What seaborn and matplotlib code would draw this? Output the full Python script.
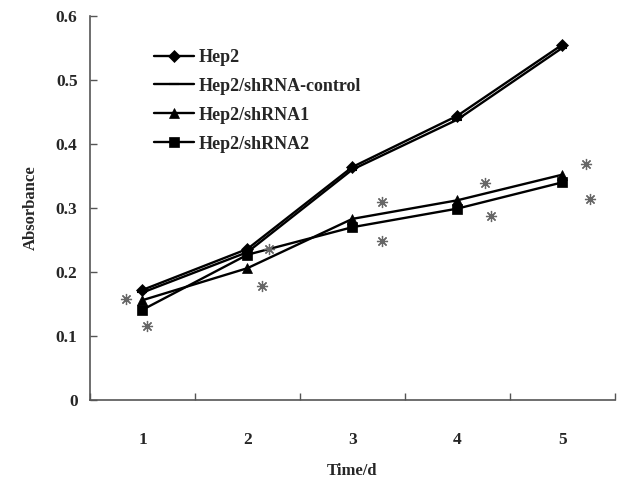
import numpy as np
import pandas as pd
import seaborn as sns
import matplotlib.pyplot as plt
from matplotlib.ticker import FixedLocator, FuncFormatter
from matplotlib.transforms import offset_copy

days = [1, 2, 3, 4, 5]
groups = ['Hep2', 'Hep2/shRNA-control', 'Hep2/shRNA1', 'Hep2/shRNA2']
hep2 = [0.172, 0.236, 0.364, 0.444, 0.555]
control = [0.168, 0.231, 0.360, 0.438, 0.550]
shrna1 = [0.156, 0.206, 0.283, 0.312, 0.352]
shrna2 = [0.141, 0.227, 0.270, 0.299, 0.340]

# asterisk offsets in pixels (dx, dy upward) next to shRNA1 / shRNA2 points
star_off1 = [(-16, 1), (15, -18), (30, 17), (28, 17), (24, 11)]
star_off2 = [(5, -16), (22, 6), (30, -14), (34, -7), (28, -17)]

df = pd.DataFrame({
    'Time/d': days * 4,
    'Absorbance': hep2 + control + shrna1 + shrna2,
    'group': np.repeat(groups, len(days)),
})

sns.set_theme(style='white')
plt.rcParams['font.family'] = ['Liberation Serif', 'DejaVu Serif']
plt.rcParams['font.weight'] = 'bold'

fig = plt.figure(figsize=(6.43, 4.82), dpi=100)
ax = fig.add_axes([0.14, 0.17, 0.816, 0.797])

markers = {'Hep2': ('D', 6), 'Hep2/shRNA-control': ('_', 7),
           'Hep2/shRNA1': ('^', 7.5), 'Hep2/shRNA2': ('s', 6.5)}
for g in groups:
    m, ms = markers[g]
    sns.lineplot(data=df[df['group'] == g], x='Time/d', y='Absorbance', ax=ax,
                 color='black', linewidth=1.7, marker=m, markersize=ms,
                 markeredgewidth=1.5 if m == '_' else 0.5, markeredgecolor='black',
                 label=g)

for vals, offs in [(shrna1, star_off1), (shrna2, star_off2)]:
    for d, v, (dx, dy) in zip(days, vals, offs):
        tr = offset_copy(ax.transData, fig=fig, x=dx, y=dy, units='dots')
        ax.plot(d, v, marker=(8, 2, 0), markersize=8, color='#666666',
                markeredgewidth=0.9, transform=tr, linestyle='none')

ax.set_xlim(0.5, 5.5)
ax.set_ylim(0, 0.6)
ax.xaxis.set_major_locator(FixedLocator([0.5, 1.5, 2.5, 3.5, 4.5, 5.5]))
ax.xaxis.set_minor_locator(FixedLocator(days))
ax.xaxis.set_major_formatter(FuncFormatter(lambda x, _: ''))
ax.xaxis.set_minor_formatter(FuncFormatter(lambda x, _: f'{x:.0f}'))
ax.tick_params(axis='x', which='major', direction='in', length=5, width=1,
               color='#555555', bottom=True)
ax.tick_params(axis='x', which='minor', length=0, pad=23, labelsize=12.5)
ax.set_yticks(np.arange(0, 0.61, 0.1))
ax.yaxis.set_major_formatter(FuncFormatter(lambda y, _: '0' if y < 1e-9 else f'{y:.1f}'))
ax.tick_params(axis='y', direction='in', length=5, width=1, color='#555555',
               left=True, pad=9, labelsize=12.5)

for s in ['top', 'right']:
    ax.spines[s].set_visible(False)
for s in ['left', 'bottom']:
    ax.spines[s].set_color('#555555')
    ax.spines[s].set_linewidth(1.2)

ax.set_xlabel('Time/d', fontsize=12, fontweight='bold', labelpad=11)
ax.set_ylabel('Absorbance', fontsize=12, fontweight='bold', labelpad=12)

leg = ax.legend(loc='upper left', bbox_to_anchor=(0.108, 0.933), frameon=False,
                fontsize=13, handlelength=2.2, handletextpad=0.3,
                labelspacing=0.66, borderaxespad=0)
for t in leg.get_texts():
    t.set_fontweight('bold')

fig.savefig('out.png', dpi=100)
